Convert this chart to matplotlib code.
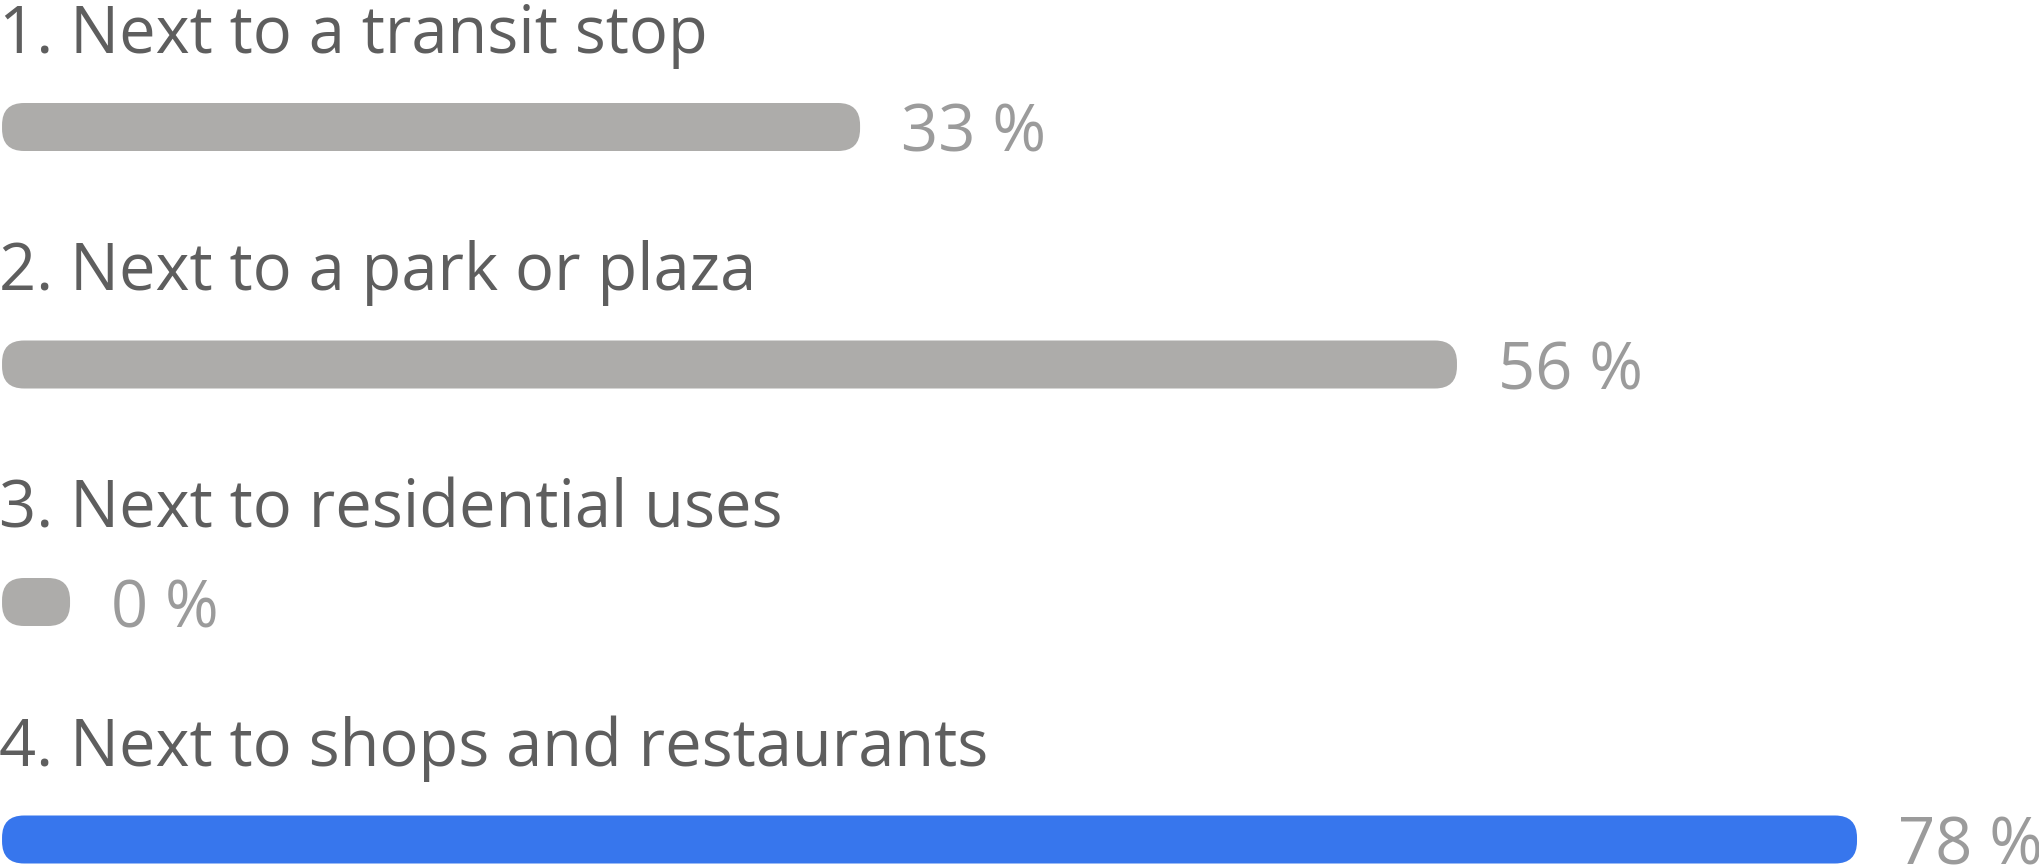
import matplotlib
matplotlib.use("Agg")
import matplotlib.pyplot as plt
from matplotlib.patches import FancyBboxPatch

# ---- data ----
labels = ["1. Next to a transit stop", "2. Next to a park or plaza",
          "3. Next to residential uses", "4. Next to shops and restaurants"]
pct_labels = ["33 %", "56 %", "0 %", "78 %"]
# bar lengths as displayed, in % of chart width
bar_lengths = [42.06, 71.32, 0.0, 90.93]
highlight = [False, False, False, True]

# ---- style ----
W, H, DPI = 2040, 868, 100
GRAY = "#adacaa"
BLUE = "#3776ed"
LABEL_C = "#5e5e5e"
PCT_C = "#9b9b9b"
FONT = ["Open Sans", "DejaVu Sans"]
FS = 46.8

fig = plt.figure(figsize=(W / DPI, H / DPI), dpi=DPI)
ax = fig.add_axes([0, 0, 1, 1])
ax.set_xlim(-0.1, 99.9)
row_px = 237.5
top_px = 127.0
ylim_top = -top_px / row_px
ax.set_ylim(ylim_top + H / row_px, ylim_top)
ax.axis("off")

px_x = 100.0 / W          # x units per pixel
px_y = 1.0 / row_px       # y units per pixel
bar_h = 48 * px_y
radius_px = 22
min_w = 68 * px_x
rs = radius_px * px_x
aspect = (radius_px * px_y) / rs

for i, (lab, pl, v, hl) in enumerate(zip(labels, pct_labels, bar_lengths, highlight)):
    w = max(v, min_w)
    patch = FancyBboxPatch((0, i - bar_h / 2), w, bar_h,
                           boxstyle=f"round,pad=0,rounding_size={rs}",
                           mutation_aspect=aspect,
                           facecolor=BLUE if hl else GRAY, edgecolor="none")
    ax.add_patch(patch)
    ax.annotate(lab, xy=(0, i), xytext=(-3, 74), textcoords="offset pixels",
                ha="left", va="baseline", fontsize=FS, color=LABEL_C, family=FONT)
    ax.annotate(pl, xy=(w, i), xytext=(41, -25), textcoords="offset pixels",
                ha="left", va="baseline", fontsize=FS, color=PCT_C, family=FONT)

fig.savefig("out.png", dpi=DPI, facecolor="white")
